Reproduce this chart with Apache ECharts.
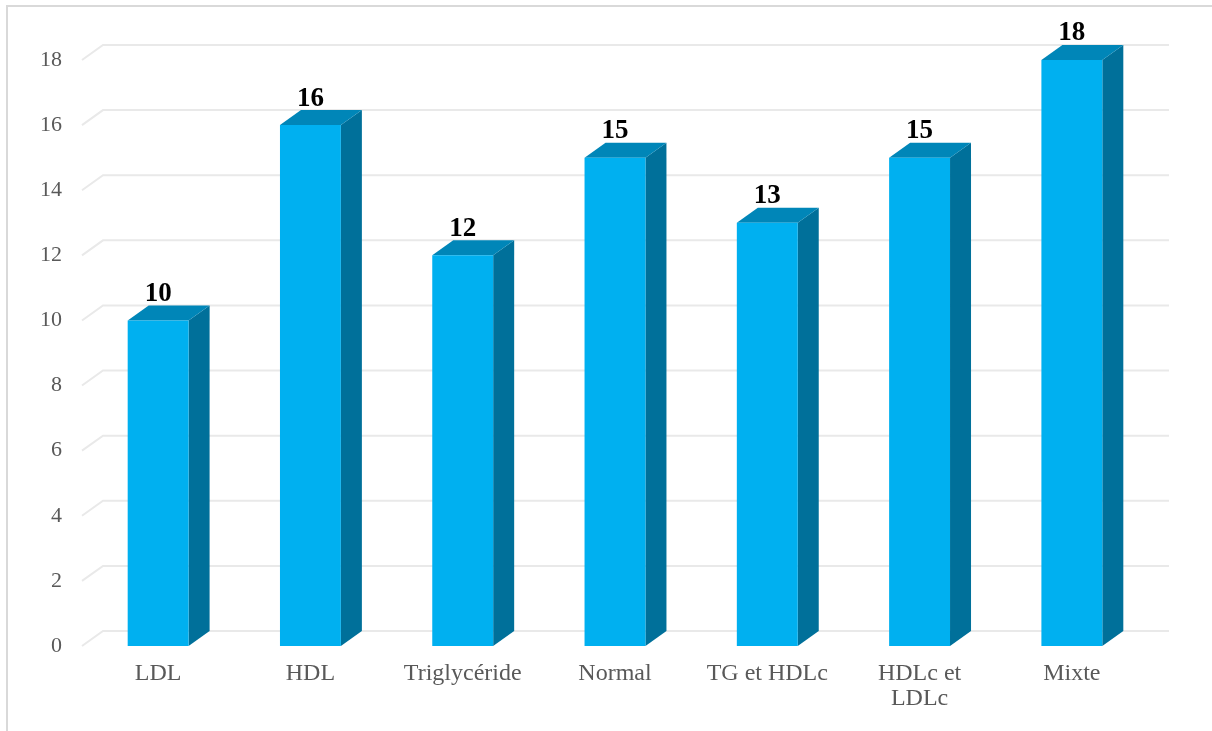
<!DOCTYPE html>
<html>
<head>
<meta charset="utf-8">
<style>
  html, body { margin: 0; padding: 0; background: #fff; }
  #chart { width: 1212px; height: 731px; }
</style>
<script src="https://cdn.jsdelivr.net/npm/echarts@6/dist/echarts.min.js"></script>
</head>
<body>
<div id="chart"></div>
<script>
// Lipid profile categories and their counts
const categories = ['LDL', 'HDL', 'Triglycéride', 'Normal', 'TG et HDLc', 'HDLc et\nLDLc', 'Mixte'];
const counts = [10, 16, 12, 15, 13, 15, 18];
const yTicks = [0, 2, 4, 6, 8, 10, 12, 14, 16, 18];

const FONT = '"Liberation Serif", "Times New Roman", serif';
const DEPTH_X = 21, DEPTH_Y = 15;
const COLOR_FRONT = '#00b0f0', COLOR_SIDE = '#00709a', COLOR_TOP = '#0086b8';

const chart = echarts.init(document.getElementById('chart'), null, { renderer: 'canvas' });

// Back-wall grid lines with their short diagonal on the floor edge
function renderWall(params, api) {
  const cs = params.coordSys;
  const y = api.coord([0, api.value(0)])[1];
  return {
    type: 'polyline',
    shape: { points: [[cs.x, y], [cs.x + DEPTH_X, y - DEPTH_Y], [cs.x + cs.width + DEPTH_X, y - DEPTH_Y]] },
    style: { stroke: '#e9e9e9', lineWidth: 2, fill: null },
    silent: true
  };
}

// Box-shaped bar: front face, right side, top and value label
function renderBar(params, api) {
  const idx = api.value(0), val = api.value(1);
  const base = api.coord([idx, 0]);
  const top = api.coord([idx, val]);
  const w = api.size([1, 0])[0] * 0.4;
  const x0 = top[0] - w / 2, x1 = x0 + w;
  const yt = top[1], yb = base[1];
  return {
    type: 'group',
    children: [
      { type: 'polygon', shape: { points: [[x1, yt], [x1 + DEPTH_X, yt - DEPTH_Y], [x1 + DEPTH_X, yb - DEPTH_Y], [x1, yb]] },
        style: { fill: COLOR_SIDE } },
      { type: 'polygon', shape: { points: [[x0, yt], [x0 + DEPTH_X, yt - DEPTH_Y], [x1 + DEPTH_X, yt - DEPTH_Y], [x1, yt]] },
        style: { fill: COLOR_TOP } },
      { type: 'rect', shape: { x: x0, y: yt, width: w, height: yb - yt },
        style: { fill: COLOR_FRONT } },
      { type: 'text', x: top[0], y: yt - 13,
        style: { text: String(val), fill: '#000', font: 'bold 27px ' + FONT, align: 'center', verticalAlign: 'bottom' } }
    ]
  };
}

chart.setOption({
  animation: false,
  grid: { left: 82, right: 64, top: 60, bottom: 85 },
  xAxis: {
    type: 'category',
    data: categories,
    axisLine: { show: false },
    axisTick: { show: false },
    axisLabel: { color: '#595959', fontFamily: FONT, fontSize: 24, lineHeight: 25, margin: 15, interval: 0 }
  },
  yAxis: {
    type: 'value',
    min: 0, max: 18, interval: 2,
    axisLine: { show: false },
    axisTick: { show: false },
    splitLine: { show: false },
    axisLabel: { color: '#595959', fontFamily: FONT, fontSize: 22, margin: 20 }
  },
  graphic: [{
    type: 'rect',
    shape: { x: 7, y: 6, width: 1220, height: 740 },
    style: { fill: null, stroke: '#d9d9d9', lineWidth: 2 },
    silent: true
  }],
  series: [
    {
      type: 'custom',
      renderItem: renderWall,
      data: yTicks.map(v => [v]),
      encode: { y: 0 },
      z: 1
    },
    {
      type: 'custom',
      renderItem: renderBar,
      data: counts.map((v, i) => [i, v]),
      encode: { x: 0, y: 1 },
      z: 5
    }
  ]
});
</script>
</body>
</html>
